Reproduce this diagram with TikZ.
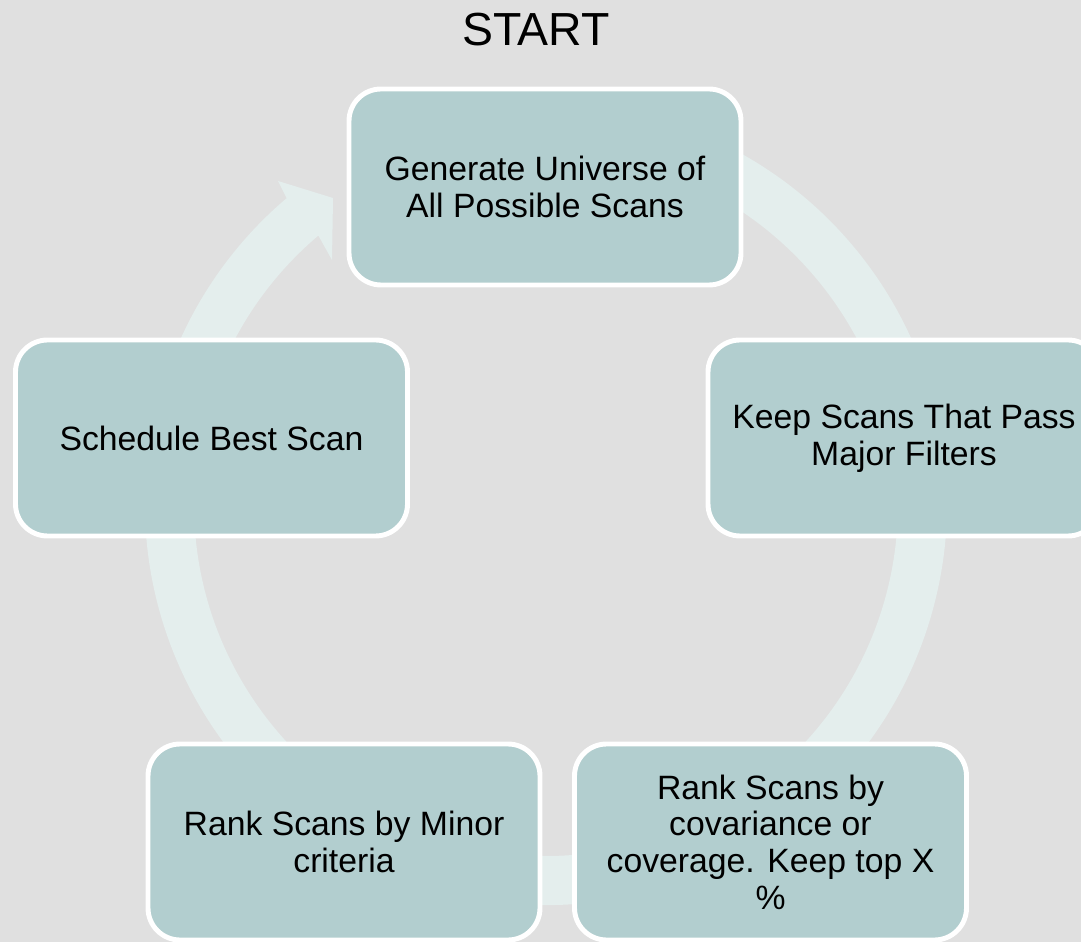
\documentclass[tikz,border=0pt]{standalone}
\usepackage{fontspec}
\setmainfont{Liberation Sans}
\usetikzlibrary{calc}
\definecolor{bgc}{RGB}{224,224,224}
\definecolor{ringc}{RGB}{228,238,237}
\definecolor{boxc}{RGB}{178,206,207}
\begin{document}
\begin{tikzpicture}[every node/.style={font=\fontsize{24}{26.1}\selectfont},
	stage/.style={rectangle,rounded corners=0.8cm,draw=white,line width=3.5pt,fill=boxc,
		minimum width=9.8cm,minimum height=4.9cm,align=center,inner sep=0pt}]
\useasboundingbox (0,0) rectangle (27.025,23.55);
\clip (0,0) rectangle (27.025,23.55);
\fill[bgc] (0,0) rectangle (27.025,23.55);
\coordinate (c) at (13.65,10.95);
% ring behind the boxes, head cut off next to the first box
\fill[ringc] ($(c)+(75:10.025)$) arc[start angle=75,end angle=-229.7,radius=10.025]
	-- (6.95,19.025) -- (8.325,18.6) -- (8.3,17.05) -- ($(c)+(130.3:8.8)$)
	arc[start angle=-229.7,end angle=75,radius=8.8] -- cycle;
\node[stage] (gen) at (13.625,18.875) {Generate Universe of\\All Possible Scans};
\node[stage] (keep) at (22.6,12.6) {Keep Scans That Pass\\Major Filters};
\node[stage] (cov) at (19.2625,2.5) {Rank Scans by\\covariance or\\coverage. Keep top X\\\%};
\node[stage] (minor) at (8.6,2.5) {Rank Scans by Minor\\criteria};
\node[stage] (sched) at (5.2875,12.6) {Schedule Best Scan};
\node[font=\fontsize{33}{36}\selectfont,anchor=base] (start) at (13.4,22.4) {START};
\end{tikzpicture}
\end{document}
